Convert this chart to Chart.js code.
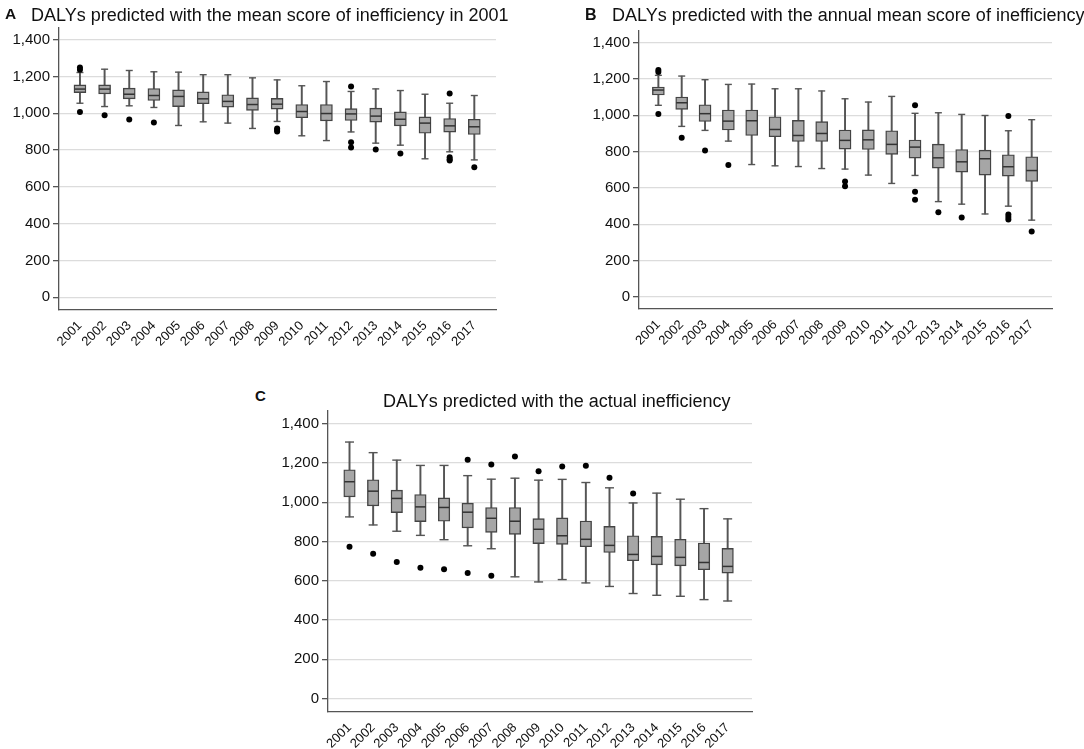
<!DOCTYPE html>
<html>
<head>
<meta charset="UTF-8">
<script src="https://cdn.jsdelivr.net/npm/chart.js"></script>
<style>
  body { margin: 0; background: #fff; font-family: "Liberation Sans", Arial, sans-serif; }
  .wrap { position: relative; width: 1084px; height: 749px; overflow: hidden; }
  canvas { position: absolute; }
  .tag { position: absolute; font-weight: bold; color: #111; line-height: 1; }
  .title { position: absolute; font-size: 18px; color: #111; line-height: 1; white-space: nowrap; }
</style>
</head>
<body>
<div class="wrap">
  <!-- canvases sit 12px higher than the plot top: chart.js keeps half a label + padding above the y axis -->
  <canvas id="chartA" width="500" height="332" style="left:0px; top:16px;"></canvas>
  <canvas id="chartB" width="476" height="328" style="left:580px; top:19px;"></canvas>
  <canvas id="chartC" width="488" height="350" style="left:268px; top:399px;"></canvas>

  <div class="tag" style="left:5px; top:6px; font-size:15.5px;">A</div>
  <div class="title" style="left:31px; top:5.5px;">DALYs predicted with the mean score of inefficiency in 2001</div>
  <div class="tag" style="left:585px; top:7px; font-size:16px;">B</div>
  <div class="title" style="left:612px; top:5.8px;">DALYs predicted with the annual mean score of inefficiency</div>
  <div class="tag" style="left:255px; top:387.5px; font-size:15px;">C</div>
  <div class="title" style="left:383px; top:391.5px;">DALYs predicted with the actual inefficiency</div>
</div>

<script>
  const years = [2001, 2002, 2003, 2004, 2005, 2006, 2007, 2008, 2009, 2010, 2011, 2012, 2013, 2014, 2015, 2016, 2017];
  const yTicks = [0, 200, 400, 600, 800, 1000, 1200, 1400];

  // A: mean score of inefficiency in 2001
  const aHigh = [1222, 1240, 1233, 1226, 1224, 1210, 1210, 1193, 1182, 1150, 1173, 1119, 1133, 1124, 1104, 1055, 1097];
  const aQ3 = [1155, 1155, 1137, 1135, 1128, 1117, 1101, 1084, 1081, 1048, 1048, 1026, 1028, 1008, 981, 972, 968];
  const aMed = [1132, 1132, 1104, 1097, 1092, 1079, 1065, 1048, 1050, 1010, 999, 997, 985, 968, 947, 932, 927];
  const aQ1 = [1113, 1106, 1079, 1070, 1037, 1052, 1034, 1016, 1023, 976, 959, 961, 952, 932, 892, 898, 885];
  const aLow = [1055, 1037, 1041, 1032, 934, 954, 947, 918, 956, 878, 852, 899, 838, 827, 753, 791, 747];
  const aOut = [[1249, 1237, 1008], [990], [967], [950], [], [], [], [], [918, 910, 901], [], [], [1146, 843, 814], [803], [782], [], [1108, 762, 751, 744], [707]];

  // B: annual mean score of inefficiency
  const bHigh = [1220, 1216, 1196, 1170, 1172, 1146, 1146, 1134, 1091, 1073, 1104, 1011, 1014, 1005, 999, 915, 976];
  const bQ3 = [1156, 1101, 1058, 1029, 1029, 992, 972, 965, 919, 920, 915, 864, 841, 812, 808, 783, 772];
  const bMed = [1139, 1069, 1009, 968, 970, 922, 889, 900, 862, 865, 840, 825, 766, 744, 761, 717, 696];
  const bQ1 = [1112, 1033, 966, 919, 889, 882, 856, 856, 814, 812, 785, 764, 709, 687, 671, 665, 636];
  const bLow = [1055, 939, 917, 858, 729, 722, 718, 707, 704, 671, 625, 669, 525, 511, 457, 500, 423];
  const bOut = [[1249, 1238, 1007], [876], [807], [726], [], [], [], [], [636, 610], [], [], [1055, 579, 535], [467], [437], [], [996, 454, 441, 426], [360]];

  // C: actual inefficiency
  const cHigh = [1306, 1252, 1214, 1187, 1187, 1135, 1117, 1122, 1112, 1116, 1100, 1073, 996, 1046, 1015, 967, 915];
  const cQ3 = [1165, 1114, 1061, 1039, 1022, 995, 973, 973, 916, 920, 904, 877, 829, 826, 811, 792, 765];
  const cMed = [1104, 1056, 1019, 976, 973, 949, 918, 903, 862, 829, 811, 780, 734, 724, 719, 693, 673];
  const cQ1 = [1027, 981, 947, 901, 903, 869, 846, 836, 789, 785, 773, 744, 702, 681, 676, 656, 639];
  const cLow = [925, 884, 852, 831, 809, 778, 763, 620, 594, 606, 589, 571, 535, 526, 521, 504, 497];
  const cOut = [[773], [738], [695], [666], [659], [1216, 639], [1192, 625], [1233], [1157], [1182], [1185], [1124], [1044], [], [], [], []];

  const axisColor = '#555';
  const font = 'Liberation Sans';

  function boxChart(id, low, q1, med, q3, high, out, cfg) {
    const pts = arr => years.map((x, i) => ({ x: x, y: arr[i] }));
    const outPts = [];
    out.forEach((vals, i) => vals.forEach(v => outPts.push({ x: years[i], y: v })));

    new Chart(document.getElementById(id), {
      type: 'bar',
      data: {
        datasets: [
          { type: 'line', data: outPts, showLine: false, pointRadius: 3, pointBackgroundColor: '#000', pointBorderWidth: 0, order: 0 },
          { type: 'line', data: pts(med), showLine: false, pointStyle: 'line', pointRadius: cfg.boxW / 2 - 0.5, pointBorderColor: '#333', pointBorderWidth: 1.5, order: 1 },
          {
            data: years.map((x, i) => ({ x: x, y: [q1[i], q3[i]] })),
            backgroundColor: '#a6a6a6', borderColor: '#444', borderWidth: 1.4, borderSkipped: false,
            barThickness: cfg.boxW, grouped: false, order: 2
          },
          { type: 'line', data: pts(low).concat(pts(high)), showLine: false, pointStyle: 'line', pointRadius: cfg.capR, pointBorderColor: axisColor, pointBorderWidth: 1.4, order: 3 },
          {
            data: years.map((x, i) => ({ x: x, y: [low[i], high[i]] })),
            backgroundColor: axisColor, borderWidth: 0, barThickness: 1.3, grouped: false, order: 4
          }
        ]
      },
      options: {
        responsive: false,
        animation: false,
        events: [],
        layout: { autoPadding: false, padding: { left: 0, right: 4, top: 0, bottom: 0 } },
        plugins: { legend: { display: false }, tooltip: { enabled: false } },
        scales: {
          x: {
            type: 'linear', min: cfg.xMin, max: cfg.xMax, offset: false,
            afterBuildTicks: s => { s.ticks = years.map(v => ({ value: v })); },
            afterFit: s => { s.height = cfg.xH; },
            grid: { display: true, color: 'rgba(0,0,0,0)', drawTicks: false, offset: false },
            border: { display: true, color: axisColor, width: 1.3 },
            ticks: {
              autoSkip: false, minRotation: 45, maxRotation: 45, padding: 8, color: '#111',
              font: { family: font, size: 13 }, callback: v => String(v)
            }
          },
          y: {
            min: cfg.yMin, max: cfg.yMax,
            afterBuildTicks: s => { s.ticks = yTicks.map(v => ({ value: v })); },
            afterFit: s => { s.width = cfg.yW; },
            grid: { color: '#dcdcdc', lineWidth: 1.3, tickColor: axisColor, tickLength: 6 },
            border: { color: axisColor, width: 1.3 },
            ticks: {
              padding: 3, color: '#111', font: { family: font, size: 15 },
              callback: v => v.toLocaleString('en-US')
            }
          }
        }
      }
    });
  }

  boxChart('chartA', aLow, aQ1, aMed, aQ3, aHigh, aOut, { boxW: 12, capR: 3.5, xMin: 2000.15, xMax: 2017.88, xH: 38, yW: 59, yMin: -69, yMax: 1464 });
  boxChart('chartB', bLow, bQ1, bMed, bQ3, bHigh, bOut, { boxW: 12, capR: 3.5, xMin: 2000.17, xMax: 2017.87, xH: 38, yW: 59, yMin: -66, yMax: 1464 });
  boxChart('chartC', cLow, cQ1, cMed, cQ3, cHigh, cOut, { boxW: 11.5, capR: 4.5, xMin: 2000.09, xMax: 2018.03, xH: 37, yW: 60, yMin: -68, yMax: 1464 });
</script>
</body>
</html>
